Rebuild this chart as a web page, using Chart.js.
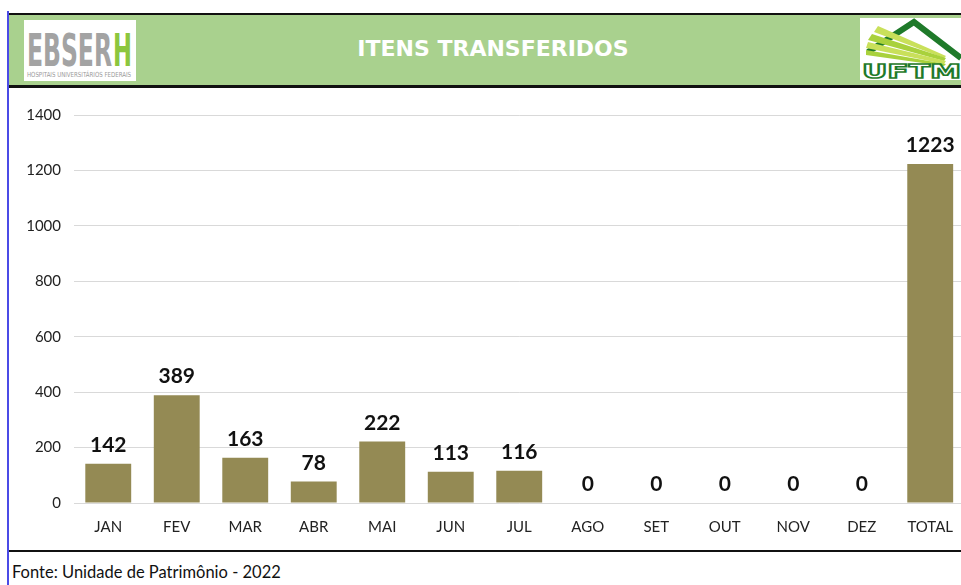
<!DOCTYPE html>
<html>
<head>
<meta charset="utf-8">
<script src="https://cdn.jsdelivr.net/npm/chart.js@4.4.1/dist/chart.umd.min.js"></script>
<style>
  html, body { margin: 0; padding: 0; background: #fff; }
  body { width: 961px; height: 585px; position: relative; overflow: hidden; font-family: Lato, 'Open Sans', sans-serif; }
  .abs { position: absolute; }
  #header { left: 9px; top: 13px; width: 952px; height: 70px; background: #a9d18e;
            border-top: 2px solid #111; border-bottom: 3px solid #111; }
  #title { left: 9px; top: 13px; width: 968px; height: 72px; line-height: 72px; text-align: center;
           color: #fff; font-family: 'DejaVu Sans', sans-serif; font-weight: bold; font-size: 22px; }
  #vline { left: 7px; top: 11px; width: 2px; height: 574px; background: #4b4be6; }
  #bline { left: 9px; top: 550px; width: 952px; height: 2px; background: #111; }
  #fonte { left: 12px; top: 562px; font-size: 16.5px; color: #111; white-space: nowrap; }
  #wrap { left: 0; top: 90px; width: 968px; height: 453px; }
</style>
</head>
<body>
<div id="header" class="abs"></div>
<div id="title" class="abs">ITENS TRANSFERIDOS</div>

<!-- logo EBSERH -->
<svg class="abs" style="left:24px;top:20px" width="112" height="61">
  <rect x="0" y="0" width="112" height="61" fill="#fff"/>
  <text x="3" y="46" font-family="'DejaVu Sans Condensed', sans-serif" font-weight="bold" font-size="44"
        fill="#a3a3a3" textLength="85" lengthAdjust="spacingAndGlyphs">EBSER</text>
  <text x="89" y="46" font-family="'DejaVu Sans Condensed', sans-serif" font-weight="bold" font-size="44"
        fill="#8cc63e" textLength="19" lengthAdjust="spacingAndGlyphs">H</text>
  <text x="3" y="57" font-family="'DejaVu Sans Condensed', sans-serif" font-size="7"
        fill="#9a9a9a" textLength="104" lengthAdjust="spacingAndGlyphs">HOSPITAIS UNIVERSITÁRIOS FEDERAIS</text>
</svg>

<!-- logo UFTM -->
<svg class="abs" style="left:860px;top:18px" width="101" height="62">
  <rect x="0" y="0" width="101" height="62" fill="#fff"/>
  <polyline points="8,34 54,4 101,40" fill="none" stroke="#1f7a2a" stroke-width="6"/>
  <polygon points="18,8 86,38 84,40 14,14" fill="#c9e05a"/>
  <polygon points="12,16 86,40 84,43 8,22" fill="#a9d13c"/>
  <polygon points="8,24 86,43 84,46 6,30" fill="#c9e05a"/>
  <polygon points="6,32 86,46 84,48 6,37" fill="#a9d13c"/>
  <text x="2" y="60" font-family="'DejaVu Sans', sans-serif" font-weight="bold" font-size="20"
        fill="#fff" stroke="#1f7a2a" stroke-width="1.6" textLength="99" lengthAdjust="spacingAndGlyphs">UFTM</text>
</svg>

<div id="vline" class="abs"></div>
<div id="bline" class="abs"></div>
<div id="fonte" class="abs">Fonte: Unidade de Patrimônio - 2022</div>

<div id="wrap" class="abs"><canvas id="ch"></canvas></div>

<script>
const meses = ['JAN', 'FEV', 'MAR', 'ABR', 'MAI', 'JUN', 'JUL', 'AGO', 'SET', 'OUT', 'NOV', 'DEZ', 'TOTAL'];
const itens = [142, 389, 163, 78, 222, 113, 116, 0, 0, 0, 0, 0, 1223];
const yMax = 1400;
const yStep = 200;

// rotulos de valor em cima das barras (sem plugin datalabels)
const valueLabels = {
  id: 'valueLabels',
  afterDatasetsDraw(chart) {
    const ctx = chart.ctx;
    const meta = chart.getDatasetMeta(0);
    ctx.save();
    ctx.font = 'bold 21px Lato, sans-serif';
    ctx.fillStyle = '#111';
    ctx.textAlign = 'center';
    ctx.textBaseline = 'bottom';
    meta.data.forEach((bar, i) => {
      ctx.fillText(String(itens[i]), bar.x, bar.y - 8);
    });
    ctx.restore();
  }
};

new Chart(document.getElementById('ch'), {
  type: 'bar',
  data: {
    labels: meses,
    datasets: [{ data: itens, backgroundColor: '#948a54', categoryPercentage: 1, barPercentage: 0.67 }]
  },
  options: {
    responsive: true,
    maintainAspectRatio: false,
    animation: false,
    layout: { padding: { top: 25, right: 0, left: 0, bottom: 0 } },
    plugins: { legend: { display: false }, tooltip: { enabled: false } },
    scales: {
      x: {
        grid: { display: false, drawTicks: false },
        border: { display: false },
        ticks: { color: '#222', font: { family: 'Lato', size: 15 }, padding: 15 },
        afterFit: s => { s.height = 40; }
      },
      y: {
        min: 0, max: yMax,
        grid: { color: '#d9d9d9', drawTicks: false },
        border: { display: false },
        ticks: { stepSize: yStep, color: '#222', font: { family: 'Lato', size: 15 }, padding: 13,
                 callback: v => String(v) },
        afterFit: s => { s.width = 74; }
      }
    }
  },
  plugins: [valueLabels]
});
</script>
</body>
</html>
